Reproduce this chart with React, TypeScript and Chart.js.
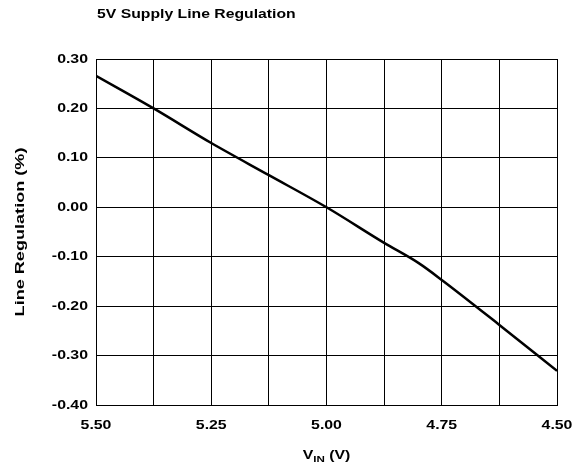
import React, { useEffect, useRef } from "react";
import { Chart, registerables } from "chart.js";

Chart.register(...registerables);

const chartTitle = "5V Supply Line Regulation";
const yAxisTitle = "Line Regulation (%)";
const vin = [5.5, 5.375, 5.25, 5.125, 5.0, 4.875, 4.8, 4.75, 4.625, 4.5];
const lineReg = [0.266, 0.2, 0.13, 0.065, 0.0, -0.072, -0.113, -0.147, -0.238, -0.331];
const xLabelValues = [5.5, 5.25, 5.0, 4.75, 4.5];

const FONT = '"Liberation Sans", Arial, sans-serif';
const SX = 1.22;

function stretchedText(
  ctx: CanvasRenderingContext2D,
  text: string,
  x: number,
  y: number,
  align: CanvasTextAlign,
  size: number,
  rot = 0,
  sx = SX
) {
  ctx.save();
  ctx.translate(x, y);
  if (rot) ctx.rotate(rot);
  ctx.scale(sx, 1);
  ctx.font = `bold ${size}px ${FONT}`;
  ctx.textAlign = align;
  ctx.textBaseline = "middle";
  ctx.fillStyle = "#000";
  ctx.fillText(text, 0, 0);
  ctx.restore();
}

const textPlugin = {
  id: "textPlugin",
  afterDraw(chart: any) {
    const ctx: CanvasRenderingContext2D = chart.ctx;
    const area = chart.chartArea;
    const xs = chart.scales.x;
    const ys = chart.scales.y;
    // title
    stretchedText(ctx, chartTitle, area.left + 1, 15, "left", 12.5, 0, 1.26);
    // y tick labels
    ys.ticks.forEach((t: any) => {
      const v = Math.abs(t.value) < 1e-9 ? 0 : t.value;
      stretchedText(ctx, v.toFixed(2), area.left - 8, ys.getPixelForValue(t.value), "right", 13);
    });
    // x tick labels
    xLabelValues.forEach((v) => {
      stretchedText(ctx, v.toFixed(2), xs.getPixelForValue(v), 425, "center", 13);
    });
    // y title
    stretchedText(ctx, yAxisTitle, 20, (area.top + area.bottom) / 2, "center", 13.5, -Math.PI / 2, 1.34);
    // x title with subscript
    ctx.save();
    ctx.textBaseline = "alphabetic";
    ctx.font = `bold 13px ${FONT}`;
    const wV = ctx.measureText("V").width * SX;
    const wRest = ctx.measureText(" (V)").width * SX;
    ctx.font = `bold 9.5px ${FONT}`;
    const wSub = ctx.measureText("IN").width * SX;
    ctx.restore();
    const total = wV + wSub + wRest;
    const cx = (area.left + area.right) / 2;
    const x0 = cx - total / 2;
    const base = 459;
    const draw = (txt: string, x: number, y: number, size: number) => {
      ctx.save();
      ctx.translate(x, y);
      ctx.scale(SX, 1);
      ctx.font = `bold ${size}px ${FONT}`;
      ctx.textAlign = "left";
      ctx.textBaseline = "alphabetic";
      ctx.fillStyle = "#000";
      ctx.fillText(txt, 0, 0);
      ctx.restore();
    };
    draw("V", x0, base, 13);
    draw("IN", x0 + wV, base + 3, 9.5);
    draw(" (V)", x0 + wV + wSub, base, 13);
  },
};

export default function App() {
  const ref = useRef<HTMLCanvasElement | null>(null);
  useEffect(() => {
    if (!ref.current) return;
    const chart = new Chart(ref.current, {
      type: "line",
      data: {
        datasets: [
          {
            data: vin.map((v, i) => ({ x: v, y: lineReg[i] })),
            borderColor: "#000",
            borderWidth: 2.5,
            pointRadius: 0,
            fill: false,
            cubicInterpolationMode: "monotone",
          },
        ],
      },
      options: {
        animation: false,
        responsive: true,
        maintainAspectRatio: false,
        layout: { padding: { top: 59, right: 22, left: 0, bottom: 0 } },
        plugins: { legend: { display: false }, title: { display: false }, tooltip: { enabled: false } },
        scales: {
          x: {
            type: "linear",
            reverse: true,
            min: 4.5,
            max: 5.5,
            ticks: { stepSize: 0.125, display: false },
            grid: { color: "#000", lineWidth: 1, drawTicks: false },
            border: { display: true, color: "#000", width: 1 },
            afterFit: (s: any) => {
              s.height = 64;
            },
          },
          y: {
            min: -0.4,
            max: 0.3,
            ticks: { stepSize: 0.1, display: false },
            grid: { color: "#000", lineWidth: 1, drawTicks: false },
            border: { display: true, color: "#000", width: 1 },
            afterFit: (s: any) => {
              s.width = 96;
            },
          },
        },
      },
      plugins: [textPlugin],
    });
    return () => chart.destroy();
  }, []);
  return (
    <div style={{ position: "absolute", left: 0, top: 0, width: 579, height: 469, background: "#fff" }}>
      <canvas ref={ref} />
    </div>
  );
}
